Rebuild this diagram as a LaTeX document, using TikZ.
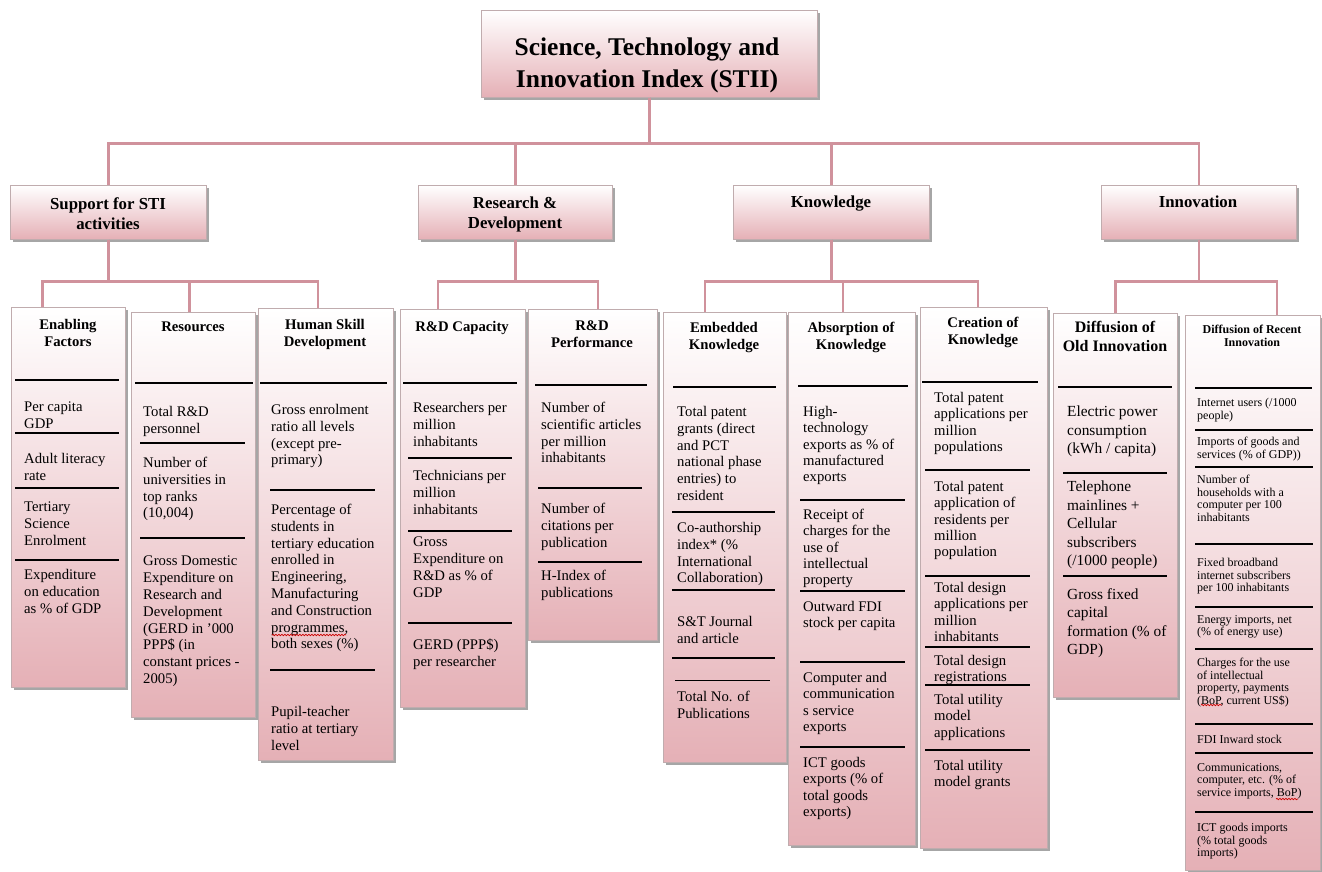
\documentclass[tikz,border=0pt]{standalone}
\usepackage{fontspec}
\setmainfont{Liberation Serif}
\usetikzlibrary{shadows,decorations.pathmorphing}
\definecolor{boxpink}{RGB}{229,176,182}
\definecolor{linkrose}{RGB}{208,146,156}
\definecolor{boxedge}{RGB}{192,172,174}
\newcommand\stiifont{\fontsize{25.5}{32}\selectfont}
\newcommand\catfont{\fontsize{16.8}{20}\selectfont}
\newcommand\cellfont{\fontsize{14.7}{16.8}\selectfont}
\newcommand\tightcellfont{\fontsize{14.7}{16.3}\selectfont}
\newcommand\bigcellfont{\fontsize{15.4}{18.5}\selectfont}
\newcommand\tinycellfont{\fontsize{12}{12.6}\selectfont}

\begin{document}
\begin{tikzpicture}[x=1pt,y=-1pt,
  box/.style={draw=boxedge,line width=.6pt,top color=white,bottom color=boxpink,anchor=north west,inner sep=0pt,
    drop shadow={shadow xshift=3pt,shadow yshift=-3pt,opacity=.35,fill=black}},
  link/.style={draw=linkrose,line width=2.4pt},
  rule/.style={line width=1.3pt},
  cell/.style={anchor=north west,align=left,inner sep=0pt,font=\cellfont},
  tightcell/.style={cell,font=\tightcellfont},
  bigcell/.style={cell,font=\bigcellfont},
  tinycell/.style={cell,font=\tinycellfont},
  colhead/.style={anchor=north,align=center,inner sep=0pt,font=\cellfont\bfseries},
  cathead/.style={anchor=north,align=center,inner sep=0pt,font=\catfont\bfseries},
  squiggle/.style={red!80!black,line width=.7pt,decorate,decoration={snake,amplitude=.7pt,segment length=3pt}}]
\useasboundingbox (0,0) rectangle (1322,871);

% index and the four pillars
\node[box,minimum width=336pt,minimum height=87pt] (stii) at (481,10) {};
\node[anchor=north,align=center,inner sep=0pt,font=\stiifont\bfseries] (stii-t) at (647,38)
  {Science, Technology and\\Innovation Index (STII)};
\foreach \n/\x/\w in {sup/10/196,rnd/418/194,know/733/196,innov/1101/195}
  \node[box,minimum width=\w pt,minimum height=54pt] (\n) at (\x,185) {};
\node[cathead] (sup-t) at (108,197) {Support for STI\\activities};
\node[cathead] (rnd-t) at (515,197) {Research \&\\Development};
\node[cathead] (know-t) at (831,196) {Knowledge};
\node[cathead] (innov-t) at (1198,196) {Innovation};

% sub-pillar columns
\foreach \n/\x/\y/\w/\h in {enab/11/307/114/380,reso/131/312/124/405,skill/258/308/135/452,
    rdcap/400/309/125/398,rdperf/528/309/129/331,embed/663/312/123/450,absorb/788/312/127/533,
    create/920/307/127/541,oldinn/1053/313/124/384,newinn/1185/315/135/555}
  \node[box,minimum width=\w pt,minimum height=\h pt] (\n) at (\x,\y) {};

\foreach \c in {sup,rnd,know,innov}
  \draw[link] (stii.south) -- ++(0,46) -| (\c.north);
\foreach \p/\c/\s in {sup/enab/-26,sup/reso/-4,sup/skill/-8,rnd/rdcap/-25,rnd/rdperf/5,
    know/embed/-20,know/absorb/-9,know/create/-6,innov/oldinn/0,innov/newinn/24}
  \draw[link] (\p.south) -- ++(0,42) -| ([xshift=\s pt]\c.north);

% Enabling Factors
\node[colhead] (enab-h) at (68,319) {Enabling\\Factors};
\draw[rule] (15,380) -- (119,380);
\foreach \y in {433,488,560} \draw[rule] (15,\y) -- (119,\y);
\node[cell] (enab-1) at (24,402) {Per capita\\GDP};
\node[cell] (enab-2) at (24,453) {Adult literacy\\rate};
\node[cell] (enab-3) at (24,502) {Tertiary\\Science\\Enrolment};
\node[cell] (enab-4) at (24,569) {Expenditure\\on education\\as \% of GDP};

% Resources
\node[colhead] (reso-h) at (193,322) {Resources};
\draw[rule] (135,383) -- (253,383);
\foreach \y in {443,538} \draw[rule] (140,\y) -- (245,\y);
\node[cell] (reso-1) at (143,406) {Total R\&D\\personnel};
\node[cell] (reso-2) at (143,457) {Number of\\universities in\\top ranks\\(10,004)};
\node[cell] (reso-3) at (143,556) {Gross Domestic\\Expenditure on\\Research and\\Development\\(GERD in '000\\PPP\$ (in\\constant prices -\\2005)};

% Human Skill Development
\node[colhead] (skill-h) at (325,319) {Human Skill\\Development};
\draw[rule] (260,383) -- (387,383);
\foreach \y in {490,670} \draw[rule] (270,\y) -- (375,\y);
\node[cell] (skill-1) at (271,404) {Gross enrolment\\ratio all levels\\(except pre-\\primary)};
\node[cell] (skill-2) at (271,504) {Percentage of\\students in\\tertiary education\\enrolled in\\Engineering,\\Manufacturing\\and Construction\\programmes,\\both sexes (\%)};
\node[cell] (skill-3) at (271,706) {Pupil-teacher\\ratio at tertiary\\level};
\draw[squiggle] (272,635) -- (346,635);

% R&D Capacity
\node[colhead] (rdcap-h) at (462,321) {R\&D Capacity};
\draw[rule] (403,383) -- (517,383);
\foreach \y in {458,531,623} \draw[rule] (408,\y) -- (512,\y);
\node[cell] (rdcap-1) at (413,402) {Researchers per\\million\\inhabitants};
\node[cell] (rdcap-2) at (413,470) {Technicians per\\million\\inhabitants};
\node[cell] (rdcap-3) at (413,537) {Gross\\Expenditure on\\R\&D as \% of\\GDP};
\node[cell] (rdcap-4) at (413,639) {GERD (PPP\$)\\per researcher};

% R&D Performance
\node[colhead] (rdperf-h) at (592,321) {R\&D\\Performance};
\draw[rule] (535,385) -- (647,385);
\foreach \y in {488,562} \draw[rule] (538,\y) -- (642,\y);
\node[cell] (rdperf-1) at (541,402) {Number of\\scientific articles\\per million\\inhabitants};
\node[cell] (rdperf-2) at (541,503) {Number of\\citations per\\publication};
\node[cell] (rdperf-3) at (541,570) {H-Index of\\publications};

% Embedded Knowledge
\node[colhead] (embed-h) at (724,322) {Embedded\\Knowledge};
\draw[rule] (673,387) -- (776,387);
\foreach \y in {512,590,658} \draw[rule] (672,\y) -- (775,\y);
\draw[line width=.6pt] (675,680) -- (770,680);
\node[cell] (embed-1) at (677,406) {Total patent\\grants (direct\\and PCT\\national phase\\entries) to\\resident};
\node[cell] (embed-2) at (677,522) {Co-authorship\\index* (\%\\International\\Collaboration)};
\node[cell] (embed-3) at (677,616) {S\&T Journal\\and article};
\node[cell] (embed-4) at (677,691) {Total No. of\\Publications};

% Absorption of Knowledge
\node[colhead] (absorb-h) at (851,322) {Absorption of\\Knowledge};
\draw[rule] (798,386) -- (908,386);
\foreach \y in {500,591,662,747} \draw[rule] (800,\y) -- (905,\y);
\node[tightcell] (absorb-1) at (803,406) {High-\\technology\\exports as \% of\\manufactured\\exports};
\node[tightcell] (absorb-2) at (803,509) {Receipt of\\charges for the\\use of\\intellectual\\property};
\node[tightcell] (absorb-3) at (803,601) {Outward FDI\\stock per capita};
\node[tightcell] (absorb-4) at (803,672) {Computer and\\communication\\s service\\exports};
\node[tightcell] (absorb-5) at (803,757) {ICT goods\\exports (\% of\\total goods\\exports)};

% Creation of Knowledge
\node[colhead] (create-h) at (983,317) {Creation of\\Knowledge};
\draw[rule] (922,382) -- (1038,382);
\foreach \y in {470,576,647,685,750} \draw[rule] (925,\y) -- (1030,\y);
\node[tightcell] (create-1) at (934,392) {Total patent\\applications per\\million\\populations};
\node[tightcell] (create-2) at (934,481) {Total patent\\application of\\residents per\\million\\population};
\node[tightcell] (create-3) at (934,582) {Total design\\applications per\\million\\inhabitants};
\node[tightcell] (create-4) at (934,655) {Total design\\registrations};
\node[tightcell] (create-5) at (934,694) {Total utility\\model\\applications};
\node[tightcell] (create-6) at (934,760) {Total utility\\model grants};

% Diffusion of Old Innovation
\node[colhead,font=\fontsize{16}{19}\selectfont\bfseries] (oldinn-h) at (1115,321) {Diffusion of\\Old Innovation};
\draw[rule] (1058,387) -- (1172,387);
\foreach \y in {473,576} \draw[rule] (1063,\y) -- (1167,\y);
\node[bigcell] (oldinn-1) at (1067,406) {Electric power\\consumption\\(kWh / capita)};
\node[bigcell] (oldinn-2) at (1067,481) {Telephone\\mainlines +\\Cellular\\subscribers\\(/1000 people)};
\node[bigcell] (oldinn-3) at (1067,588) {Gross fixed\\capital\\formation (\% of\\GDP)};

% Diffusion of Recent Innovation
\node[colhead,font=\tinycellfont\bfseries] (newinn-h) at (1252,325) {Diffusion of Recent\\Innovation};
\draw[rule] (1195,388) -- (1312,388);
\foreach \y in {430,467,544,607,649,724,753,812} \draw[rule] (1195,\y) -- (1313,\y);
\node[tinycell] (newinn-1) at (1197,398) {Internet users (/1000\\people)};
\node[tinycell] (newinn-2) at (1197,437) {Imports of goods and\\services (\% of GDP))};
\node[tinycell] (newinn-3) at (1197,475) {Number of\\households with a\\computer per 100\\inhabitants};
\node[tinycell] (newinn-4) at (1197,558) {Fixed broadband\\internet subscribers\\per 100 inhabitants};
\node[tinycell] (newinn-5) at (1197,615) {Energy imports, net\\(\% of energy use)};
\node[tinycell] (newinn-6) at (1197,658) {Charges for the use\\of intellectual\\property, payments\\(BoP, current US\$)};
\node[tinycell] (newinn-7) at (1197,735) {FDI Inward stock};
\node[tinycell] (newinn-8) at (1197,763) {Communications,\\computer, etc. (\% of\\service imports, BoP)};
\node[tinycell] (newinn-9) at (1197,823) {ICT goods imports\\(\% total goods\\imports)};
\draw[squiggle] (1201,705) -- (1222,705);
\draw[squiggle] (1276,799) -- (1298,799);
\end{tikzpicture}
\end{document}
